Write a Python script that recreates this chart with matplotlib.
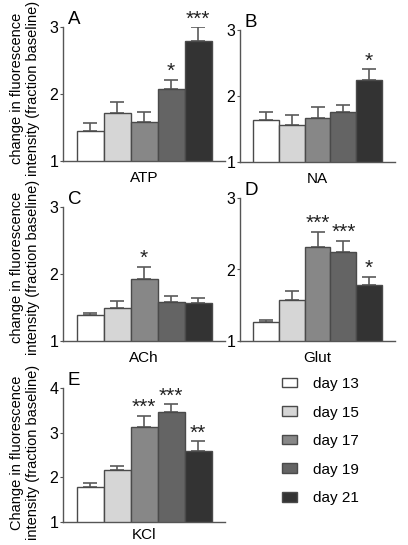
import matplotlib.pyplot as plt
from matplotlib.patches import Patch

plt.rcParams['font.family'] = ['Liberation Sans', 'DejaVu Sans']

days = ['day 13', 'day 15', 'day 17', 'day 19', 'day 21']
colors = ['#ffffff', '#d6d6d6', '#878787', '#646464', '#333333']

atp_mean = [1.45, 1.71, 1.58, 2.07, 2.79]
atp_err = [0.11, 0.17, 0.15, 0.14, 0.21]
atp_sig = ['', '', '', '*', '***']

na_mean = [1.64, 1.56, 1.67, 1.76, 2.24]
na_err = [0.12, 0.15, 0.16, 0.10, 0.17]
na_sig = ['', '', '', '', '*']

ach_mean = [1.39, 1.49, 1.92, 1.58, 1.56]
ach_err = [0.03, 0.10, 0.19, 0.09, 0.08]
ach_sig = ['', '', '*', '', '']

glut_mean = [1.27, 1.58, 2.32, 2.25, 1.79]
glut_err = [0.03, 0.12, 0.21, 0.15, 0.11]
glut_sig = ['', '', '***', '***', '*']

kcl_mean = [1.78, 2.16, 3.13, 3.46, 2.60]
kcl_err = [0.09, 0.10, 0.25, 0.18, 0.21]
kcl_sig = ['', '', '***', '***', '**']

W, H = 408, 545
fig = plt.figure(figsize=(W / 100, H / 100), dpi=100)


def box(left, right, top, bottom):
    # pixel box -> figure fraction
    return [left / W, 1 - bottom / H, (right - left) / W, (bottom - top) / H]


def panel(rect, means, errs, sig, letter, xlabel, ymax, ylabel=None, ly=0.5, xpad=7):
    ax = fig.add_axes(rect)
    x = range(len(means))
    ax.bar(x, means, width=1.0, color=colors, edgecolor='#4a4a4a', linewidth=1.0, zorder=2)
    ax.errorbar(x, means, yerr=[[0] * len(errs), errs], fmt='none', ecolor='#5a5a5a',
                elinewidth=1.2, capsize=5, capthick=1.2, zorder=1)
    for xi, m, e, s in zip(x, means, errs, sig):
        if s:
            ax.annotate(s, (xi, m + e), xytext=(0, -1), textcoords='offset points',
                        ha='center', va='bottom', fontsize=15, color='#222222')
    ax.set_xlim(-1, 5)
    ax.set_ylim(1, ymax)
    ax.set_yticks(range(1, ymax + 1))
    ax.set_xticks([])
    for side in ['top', 'right']:
        ax.spines[side].set_visible(False)
    for side in ['left', 'bottom']:
        ax.spines[side].set_color('#555555')
        ax.spines[side].set_linewidth(1.0)
    ax.tick_params(axis='y', length=2.5, width=0.8, color='#555555', pad=1, labelsize=11.5)
    ax.set_xlabel(xlabel, fontsize=11, labelpad=xpad)
    if ylabel:
        ax.set_ylabel(ylabel, fontsize=10.5, linespacing=1.2)
        ax.yaxis.set_label_coords(-0.14, ly)
    ax.text(0.03, 0.99, letter, transform=ax.transAxes, ha='left', va='bottom', fontsize=13.5)
    return ax


lab = 'change in fluorescence\nintensity (fraction baseline)'
panel(box(63, 225, 27, 161), atp_mean, atp_err, atp_sig, 'A', 'ATP', 3, lab, ly=0.54)
panel(box(240, 395, 30, 162), na_mean, na_err, na_sig, 'B', 'NA', 3)
panel(box(63, 225, 207, 341), ach_mean, ach_err, ach_sig, 'C', 'ACh', 3, lab, ly=0.55)
panel(box(240, 395, 198, 341), glut_mean, glut_err, glut_sig, 'D', 'Glut', 3)
panel(box(63, 225, 388, 522), kcl_mean, kcl_err, kcl_sig, 'E', 'KCl', 4,
      'Change in fluorescence\nintensity (fraction baseline)', ly=0.52, xpad=4)

handles = [Patch(facecolor=c, edgecolor='#4a4a4a', linewidth=1.0) for c in colors]
fig.legend(handles, days, loc='upper left', bbox_to_anchor=(282 / W, 1 - 377 / H),
           frameon=False, borderpad=0, borderaxespad=0, fontsize=11,
           handlelength=1.0, handleheight=0.6, handletextpad=1.0, labelspacing=0.95)

fig.savefig('out.png', dpi=100)
